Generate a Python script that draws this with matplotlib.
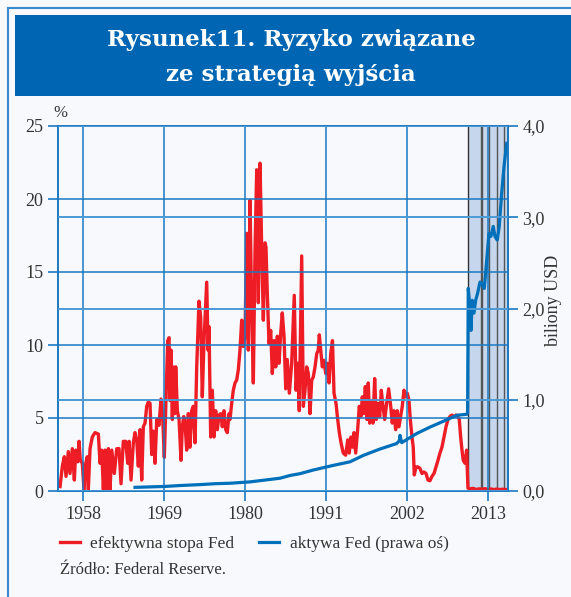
import numpy as np
import matplotlib
matplotlib.use('Agg')
import matplotlib.pyplot as plt
from matplotlib.patches import Rectangle
from matplotlib.lines import Line2D

plt.rcParams['font.family'] = ['Liberation Serif', 'DejaVu Serif']

# efektywna stopa Fed (%), lewa oś
rate_years = [1954.88, 1955.19, 1955.46, 1955.69, 1956.00, 1956.23, 1956.55, 1956.82, 1957.01, 1957.28,
              1957.46, 1957.63, 1957.90, 1958.14, 1958.37, 1958.58, 1958.72, 1958.95, 1959.26, 1959.63,
              1960.08, 1960.31, 1960.54, 1960.76, 1960.99, 1961.22, 1961.44, 1961.67, 1961.90, 1962.25,
              1962.58, 1962.89, 1963.16, 1963.47, 1963.80, 1964.07, 1964.25, 1964.52, 1964.83, 1965.06,
              1965.29, 1965.51, 1965.74, 1965.97, 1966.19, 1966.42, 1966.65, 1966.87, 1967.10, 1967.33,
              1967.55, 1967.78, 1968.01, 1968.32, 1968.59, 1968.82, 1969.04, 1969.27, 1969.50, 1969.68,
              1969.81, 1969.95, 1970.13, 1970.26, 1970.45, 1970.59, 1970.81, 1971.04, 1971.31, 1971.48,
              1971.68, 1971.85, 1972.08, 1972.30, 1972.53, 1972.76, 1972.98, 1973.21, 1973.44, 1973.75,
              1973.98, 1974.20, 1974.43, 1974.80, 1974.98, 1975.11, 1975.34, 1975.56, 1975.79, 1976.02,
              1976.24, 1976.47, 1976.70, 1976.92, 1977.15, 1977.38, 1977.60, 1977.83, 1977.96, 1978.19,
              1978.41, 1978.64, 1978.87, 1979.09, 1979.32, 1979.55, 1979.77, 1980.00, 1980.23, 1980.45,
              1980.68, 1980.91, 1981.13, 1981.36, 1981.59, 1981.81, 1982.04, 1982.27, 1982.49, 1982.72,
              1982.85, 1983.03, 1983.26, 1983.49, 1983.71, 1983.94, 1984.17, 1984.39, 1984.62, 1984.85,
              1985.06, 1985.30, 1985.53, 1985.74, 1986.02, 1986.34, 1986.69, 1986.93, 1987.16, 1987.37,
              1987.70, 1987.92, 1988.15, 1988.38, 1988.60, 1988.83, 1989.06, 1989.27, 1989.51, 1989.74,
              1989.95, 1990.09, 1990.28, 1990.50, 1990.73, 1990.96, 1991.18, 1991.41, 1991.64, 1991.88,
              1992.09, 1992.36, 1992.59, 1992.81, 1993.04, 1993.35, 1993.67, 1993.95, 1994.16, 1994.39,
              1994.62, 1994.80, 1995.03, 1995.30, 1995.52, 1995.75, 1995.93, 1996.12, 1996.34, 1996.57,
              1996.74, 1996.93, 1997.15, 1997.38, 1997.61, 1997.83, 1998.06, 1998.29, 1998.51, 1998.74,
              1998.97, 1999.24, 1999.51, 1999.79, 2000.00, 2000.23, 2000.46, 2000.68, 2000.91, 2001.14,
              2001.36, 2001.59, 2001.82, 2002.04, 2002.27, 2002.45, 2002.68, 2002.85, 2002.99, 2003.22,
              2003.49, 2003.76, 2004.04, 2004.31, 2004.58, 2004.85, 2005.12, 2005.39, 2005.67, 2005.94,
              2006.21, 2006.48, 2006.75, 2007.02, 2007.30, 2007.57, 2007.84, 2008.11, 2008.38, 2008.65,
              2008.88, 2009.10, 2009.29, 2009.47, 2009.64, 2009.88, 2010.10, 2010.28, 2010.60, 2011.00,
              2011.40, 2011.80, 2012.20, 2012.60, 2013.00, 2013.40, 2013.80, 2014.20, 2014.60, 2015.00,
              2015.44]
rate = [0.3, 1.7, 2.35, 1.0, 2.7, 1.2, 2.9, 0.75, 2.8, 2.0,
        3.4, 2.1, 1.9, 0.0, 1.9, 2.35, 0.1, 2.9, 3.7, 4.0,
        3.9, 1.9, 2.8, 0.1, 2.8, 0.0, 2.9, 0.1, 2.8, 1.2,
        2.9, 2.9, 0.5, 3.4, 3.4, 1.9, 3.4, 0.75, 3.3, 4.0,
        3.5, 1.7, 4.2, 0.75, 4.4, 4.65, 5.8, 6.1, 6.0, 2.5,
        4.1, 1.9, 4.9, 4.5, 6.3, 5.0, 2.3, 6.2, 10.3, 10.5,
        6.2, 9.65, 4.9, 8.5, 5.3, 8.5, 5.5, 4.9, 2.1, 4.4,
        5.1, 4.65, 2.8, 5.3, 3.0, 5.5, 5.8, 3.3, 8.5, 13.0,
        11.9, 6.45, 10.3, 14.3, 9.65, 11.25, 3.7, 6.9, 3.7, 5.5,
        4.2, 5.2, 5.3, 4.4, 5.5, 4.2, 4.0, 5.3, 4.9, 6.0,
        6.9, 7.4, 7.6, 8.3, 9.65, 11.7, 9.9, 10.6, 17.65, 9.65,
        19.9, 12.4, 7.4, 16.5, 22.0, 12.9, 22.45, 16.5, 11.7, 17.0,
        16.7, 13.5, 10.1, 11.0, 8.05, 10.3, 8.5, 10.6, 8.75, 10.8,
        12.2, 10.6, 7.0, 9.0, 6.7, 8.75, 13.4, 6.9, 8.75, 5.5,
        16.1, 5.8, 6.9, 8.5, 8.05, 5.3, 7.6, 7.8, 8.5, 9.4,
        9.65, 10.7, 9.65, 8.5, 8.95, 8.05, 8.75, 7.4, 9.4, 10.3,
        6.7, 6.0, 4.9, 4.0, 3.3, 2.6, 2.45, 3.5, 2.6, 3.7,
        3.0, 4.0, 2.6, 4.2, 5.8, 5.1, 6.45, 5.3, 7.15, 4.9,
        7.4, 4.65, 6.2, 4.65, 7.7, 4.9, 6.0, 5.1, 6.9, 5.8,
        4.9, 6.0, 7.0, 5.8, 4.65, 5.5, 4.2, 5.5, 4.4, 5.1,
        5.8, 6.9, 6.45, 6.7, 6.2, 4.9, 3.7, 3.0, 1.1, 1.65,
        1.65, 1.55, 1.2, 1.3, 1.2, 0.75, 0.7, 1.0, 1.2, 1.65,
        2.1, 2.6, 3.0, 3.7, 4.4, 4.9, 5.1, 5.2, 5.1, 5.2,
        5.1, 4.9, 3.7, 2.8, 2.1, 1.9, 2.8, 0.2, 0.15, 0.18,
        0.1, 0.15, 0.12, 0.16, 0.1, 0.14, 0.1, 0.13, 0.1, 0.12,
        0.1]

# aktywa Fed (biliony USD), prawa oś
assets_years = [1965.06, 1967.10, 1969.14, 1971.17, 1973.89, 1975.93, 1977.96, 1980.68, 1982.72, 1984.75,
                1986.11, 1987.47, 1989.27, 1991.95, 1994.26, 1996.07, 1998.33, 2000.60, 2000.95, 2001.05,
                2001.28, 2003.32, 2005.12, 2007.39, 2008.75, 2010.10, 2010.23, 2010.32, 2010.55, 2010.69,
                2010.87, 2011.10, 2011.33, 2011.60, 2011.92, 2012.15, 2012.50, 2012.83, 2013.13, 2013.40,
                2013.72, 2013.95, 2014.26, 2014.53, 2014.86, 2015.17, 2015.54]
assets = [0.04, 0.045, 0.05, 0.06, 0.07, 0.08, 0.085, 0.10, 0.12, 0.14,
          0.17, 0.19, 0.23, 0.28, 0.32, 0.39, 0.46, 0.52, 0.55, 0.61,
          0.53, 0.63, 0.70, 0.78, 0.83, 0.84, 0.86, 2.22, 2.02, 1.76,
          2.09, 1.95, 2.09, 2.17, 2.29, 2.28, 2.22, 2.53, 2.82, 2.79,
          2.90, 2.79, 2.75, 2.90, 3.26, 3.55, 3.81]

# okres po kryzysie i linie zdarzeń
crisis_start, crisis_end = 2010.28, 2015.54
event_years = [2010.28, 2012.01, 2012.22, 2013.18, 2014.26, 2015.21]

year_ticks = [1958, 1969, 1980, 1991, 2002, 2013]
left_ticks = [0, 5, 10, 15, 20, 25]
right_ticks = [0, 1, 2, 3, 4]
right_labels = ['0,0', '1,0', '2,0', '3,0', '4,0']

W, H = 571, 597
bg = '#f7f9fc'
blue = '#1a78c2'
red = '#ee1c25'
line_blue = '#0070bb'

fig = plt.figure(figsize=(W / 100, H / 100), dpi=100)
fig.patch.set_facecolor(bg)

# ramka i pasek tytułu
fig.add_artist(Line2D([7.5 / W, 7.5 / W], [0, 1 - 8 / H], transform=fig.transFigure, color='#3b8ad0', lw=1.5))
fig.add_artist(Line2D([7.5 / W, 1], [1 - 8 / H, 1 - 8 / H], transform=fig.transFigure, color='#3b8ad0', lw=1.5))
fig.add_artist(Rectangle((15 / W, 1 - 96 / H), 1 - 15 / W, 81 / H, transform=fig.transFigure,
                         facecolor='#0066b3', edgecolor='none'))
fig.text(291 / W, 1 - 40 / H, 'Rysunek11. Ryzyko związane', ha='center', va='center',
         color='white', fontsize=16.5, fontweight='bold', family='DejaVu Serif')
fig.text(291 / W, 1 - 75 / H, 'ze strategią wyjścia', ha='center', va='center',
         color='white', fontsize=16.5, fontweight='bold', family='DejaVu Serif')

ax = fig.add_axes([58 / W, 1 - 491 / H, 450 / W, 365 / H])
ax.set_facecolor(bg)
ax2 = ax.twinx()

ax.axvspan(crisis_start, crisis_end, color='#c6d6ec', zorder=0.2, lw=0)
for i, ev in enumerate(event_years):
    ax.axvline(ev, color='#333333' if i == 0 else '#555555', lw=1, zorder=0.3)

red_line, = ax.plot(rate_years, rate, color=red, lw=2.4, zorder=2)
blue_line, = ax2.plot(assets_years, assets, color=line_blue, lw=2.3, zorder=2)

ax.set_xlim(1954.6, 2015.72)
ax.set_ylim(0, 25)
ax2.set_ylim(0, 4)

ax.set_xticks(year_ticks)
ax.set_yticks(left_ticks)
ax2.set_yticks(right_ticks)
ax2.set_yticklabels(right_labels)

ax.set_axisbelow(False)
ax2.set_axisbelow(False)
ax.grid(True, color=blue, lw=1.1)
ax2.grid(True, axis='y', color='#4b9ad6', lw=1.4)

for a in (ax, ax2):
    for s in a.spines.values():
        s.set_color(blue)
        s.set_linewidth(1.2)
    a.tick_params(direction='out', length=7, width=1.2, color=blue, labelsize=13,
                  labelcolor='#333333')
ax.tick_params(axis='x', pad=4)

fig.text(60 / W, 1 - 113 / H, '%', ha='center', va='center', fontsize=12, color='#333333')
fig.text(554 / W, 1 - 300 / H, 'biliony USD', ha='center', va='center', rotation=90,
         fontsize=13, color='#333333')

fig.legend([red_line, blue_line], ['efektywna stopa Fed', 'aktywa Fed (prawa oś)'],
           loc='center left', bbox_to_anchor=(44 / W, 1 - 544 / H), ncol=2, frameon=False,
           handlelength=1.15, columnspacing=1.45, handletextpad=0.6, fontsize=12.5,
           labelcolor='#333333')
fig.text(60 / W, 1 - 570 / H, 'Źródło: Federal Reserve.', ha='left', va='center',
         fontsize=12, color='#333333')

fig.savefig('out.png', dpi=100, facecolor=fig.get_facecolor())
